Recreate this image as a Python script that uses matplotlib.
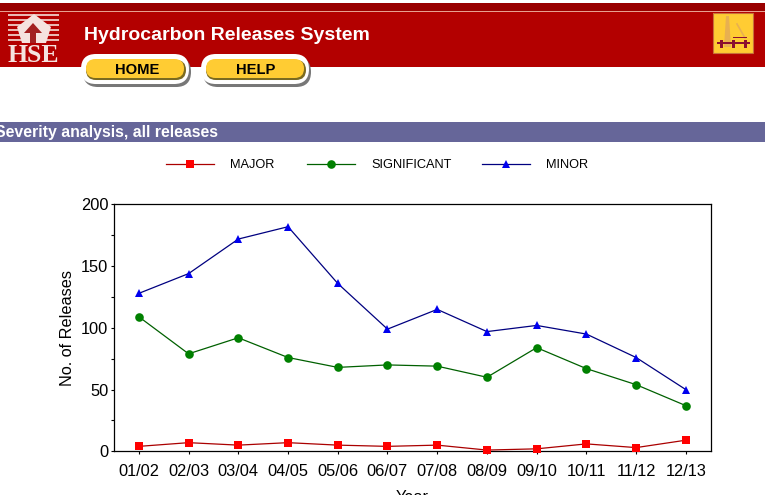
import matplotlib
matplotlib.use("Agg")
import matplotlib.pyplot as plt
from matplotlib.patches import Rectangle, FancyBboxPatch, Polygon

plt.rcParams['font.family'] = ['Liberation Sans', 'DejaVu Sans']

years = ["01/02", "02/03", "03/04", "04/05", "05/06", "06/07", "07/08", "08/09", "09/10", "10/11", "11/12", "12/13"]
major = [4, 7, 5, 7, 5, 4, 5, 1, 2, 6, 3, 9]
significant = [109, 79, 92, 76, 68, 70, 69, 60, 84, 67, 54, 37]
minor = [128, 144, 172, 182, 136, 99, 115, 97, 102, 95, 76, 50]
series_names = ["MAJOR", "SIGNIFICANT", "MINOR"]
page_title = "Hydrocarbon Releases System"
section_title = "Severity analysis, all releases"
buttons = ["HOME", "HELP"]

W, H = 765, 495
fig = plt.figure(figsize=(W / 100, H / 100), dpi=100, facecolor='white')

# page chrome in pixel coordinates
bg = fig.add_axes([0, 0, 1, 1], zorder=0)
bg.set_xlim(0, W); bg.set_ylim(H, 0); bg.axis('off')


def rect(x, y, w, h, c, z=1):
    bg.add_patch(Rectangle((x, y), w, h, facecolor=c, edgecolor='none', zorder=z))


def pill(x0, y0, x1, y1, c, z):
    r = (y1 - y0) / 2
    bg.add_patch(FancyBboxPatch((x0 + r, y0 + r), x1 - x0 - 2 * r, 0.01,
                                boxstyle=f"round,pad={r},rounding_size={r}",
                                facecolor=c, edgecolor='none', zorder=z))


rect(0, 3, W, 7.5, '#990000')
rect(0, 10.5, W, 1.3, '#e8a090')
rect(0, 11.8, W, 55.2, '#b30000')
rect(0, 122, W, 20, '#666699')

# HSE logo
for yy in [14, 19, 24, 29, 34, 39]:
    rect(8, yy, 51, 2, '#e9b9b4', z=2)
bg.add_patch(Polygon([[34, 14], [51, 27], [46, 43], [22, 43], [17, 27]], closed=True,
                     facecolor='#f5e3df', edgecolor='none', zorder=3))
bg.add_patch(Polygon([[33, 23], [42, 33], [36, 33], [36, 43], [30, 43], [30, 33], [24, 33]], closed=True,
                     facecolor='#a32020', edgecolor='none', zorder=4))
bg.text(33.5, 55.5, "HSE", color='#f5e3df', fontsize=18.5, fontweight='bold',
        family='Liberation Serif', ha='center', va='center', zorder=4)

bg.text(84, 35, page_title, color='white', fontsize=14.0, fontweight='bold', ha='left', va='center', zorder=4)

# buttons
for x0, label, cx in zip([81, 201], buttons, [137, 256]):
    pill(x0 + 2, 57, x0 + 110, 87, '#777777', 5)
    pill(x0, 54, x0 + 108, 84, 'white', 6)
    pill(x0 + 5, 60, x0 + 105, 80, '#7a6a20', 7)
    pill(x0 + 5, 59, x0 + 103, 78, '#ffcc33', 8)
    bg.text(cx, 69.5, label, color='black', fontsize=10.6, fontweight='bold', ha='center', va='center', zorder=9)

# rig icon
rect(713.5, 13, 40, 39.5, '#ffcc33', z=2)
bg.add_patch(Rectangle((713.5, 13), 40, 39.5, facecolor='none', edgecolor='#c8703a', lw=0.8, zorder=3))
bg.add_patch(Polygon([[726, 16], [729, 16], [731, 47], [724, 47]], closed=True,
                     facecolor='#e8b050', edgecolor='none', zorder=3))
rect(717, 42, 33, 2, '#8b1030', z=4)
for xx in [720, 732, 744]:
    rect(xx, 40, 3, 8, '#8b1030', z=4)
rect(733, 36.5, 14, 1.5, '#8b1030', z=4)
bg.plot([737, 745], [24, 38], color='#e8b050', lw=1.2, zorder=3)

bg.text(-5, 133, section_title, color='white', fontsize=11.4, fontweight='bold', ha='left', va='center',
        zorder=4, clip_on=True)

# chart
ax = fig.add_axes([114 / W, 1 - 451.3 / H, (710.7 - 114) / W, (451.3 - 204.5) / H], zorder=2)
ax.patch.set_alpha(0)
xs = list(range(len(years)))
styles = [(major, '#ff0000', 's', '#aa0000', 5.5),
          (significant, '#008000', 'o', '#006000', 6.2),
          (minor, '#0000ee', '^', '#000080', 6.0)]
for vals, mc, m, lc, ms in styles:
    ax.plot(xs, vals, color=lc, lw=0.9, marker=m, markersize=ms, markerfacecolor=mc,
            markeredgecolor=mc, markeredgewidth=0, clip_on=False, zorder=3)
ax.set_xlim(-0.5, 11.5)
ax.set_ylim(0, 200)
ax.set_xticks(xs, years)
ax.set_yticks([0, 50, 100, 150, 200])
ax.set_yticks([25, 75, 125, 175], minor=True)
ax.tick_params(axis='both', which='both', length=2.5, width=0.8, color='black', labelsize=11.8)
ax.tick_params(axis='y', which='major', pad=1.5)
ax.tick_params(axis='x', pad=6.5)
for sp in ax.spines.values():
    sp.set_linewidth(0.9)
ax.set_ylabel("No. of Releases", fontsize=11.7, labelpad=4.5)
bg.text(412, 490, "Year", fontsize=11.7, ha='center', va='top', color='black', zorder=4)

# legend drawn by hand in pixel coordinates from the series styles
for (vals, mc, m, lc, ms), name, x0, tx in zip(styles, series_names, [166, 307, 482], [230, 371, 546]):
    bg.plot([x0, x0 + 48], [164, 164], color=lc, lw=0.9, zorder=4)
    bg.plot([x0 + 24], [164], marker=m, color=mc, markersize=ms, markeredgewidth=0, zorder=5)
    bg.text(tx, 164.5, name, fontsize=9.2, ha='left', va='center', color='black', zorder=4)

fig.savefig("out.png", dpi=100, facecolor='white')
